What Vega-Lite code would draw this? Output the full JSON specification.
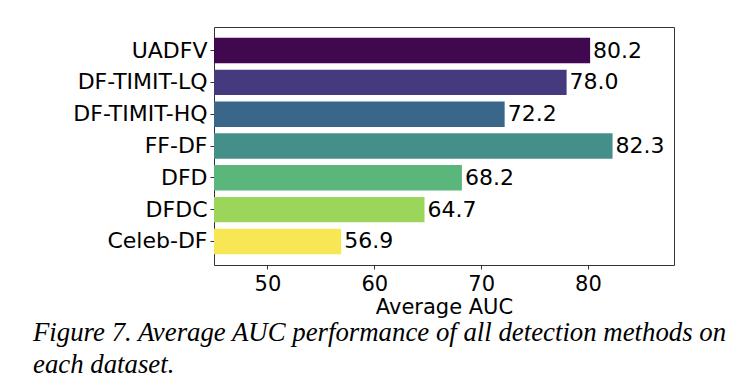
{
  "$schema": "https://vega.github.io/schema/vega-lite/v6.json",
  "autosize": {"type": "none"},
  "padding": {"left": 214, "top": 27, "right": 68, "bottom": 125},
  "width": 460,
  "height": 238,
  "background": "white",
  "config": {
    "view": {"stroke": "#333333", "strokeWidth": 1},
    "font": "DejaVu Sans"
  },
  "title": {
    "text": ["Figure 7. Average AUC performance of all detection methods on", "each dataset."],
    "orient": "bottom",
    "anchor": "start",
    "frame": "group",
    "dx": -181,
    "offset": 3,
    "font": "Liberation Serif",
    "fontStyle": "italic",
    "fontWeight": "normal",
    "fontSize": 26.8,
    "lineHeight": 32,
    "color": "black"
  },
  "data": {
    "values": [
      {"dataset": "UADFV", "auc": 80.2, "color": "#40084f"},
      {"dataset": "DF-TIMIT-LQ", "auc": 78.0, "color": "#453a7e"},
      {"dataset": "DF-TIMIT-HQ", "auc": 72.2, "color": "#3a6689"},
      {"dataset": "FF-DF", "auc": 82.3, "color": "#458f8a"},
      {"dataset": "DFD", "auc": 68.2, "color": "#5ab67a"},
      {"dataset": "DFDC", "auc": 64.7, "color": "#9bd55a"},
      {"dataset": "Celeb-DF", "auc": 56.9, "color": "#f7e755"}
    ]
  },
  "encoding": {
    "y": {
      "field": "dataset",
      "type": "nominal",
      "sort": null,
      "scale": {"paddingInner": 0.2, "paddingOuter": 0.34},
      "axis": {
        "title": null,
        "domain": false,
        "labelFont": "DejaVu Sans",
        "labelFontSize": 22,
        "labelColor": "black",
        "tickSize": 4,
        "tickColor": "#333333",
        "labelPadding": 3
      }
    },
    "x": {
      "field": "auc",
      "type": "quantitative",
      "scale": {"domain": [45, 88.05], "nice": false, "zero": false},
      "axis": {
        "title": "Average AUC",
        "values": [50, 60, 70, 80],
        "grid": false,
        "domain": false,
        "labelFont": "DejaVu Sans",
        "labelFontSize": 21,
        "labelColor": "black",
        "titleFont": "DejaVu Sans",
        "titleFontSize": 21,
        "titleFontWeight": "normal",
        "titleColor": "black",
        "tickSize": 4,
        "tickColor": "#333333",
        "labelPadding": 4,
        "titlePadding": 2
      }
    }
  },
  "layer": [
    {
      "mark": {"type": "bar", "clip": true},
      "encoding": {
        "x2": {"datum": 45},
        "color": {"field": "color", "type": "nominal", "scale": null, "legend": null}
      }
    },
    {
      "mark": {"type": "text", "align": "left", "baseline": "middle", "dx": 3, "fontSize": 22, "font": "DejaVu Sans", "color": "black"},
      "encoding": {
        "text": {"field": "auc", "type": "quantitative", "format": ".1f"}
      }
    }
  ]
}
